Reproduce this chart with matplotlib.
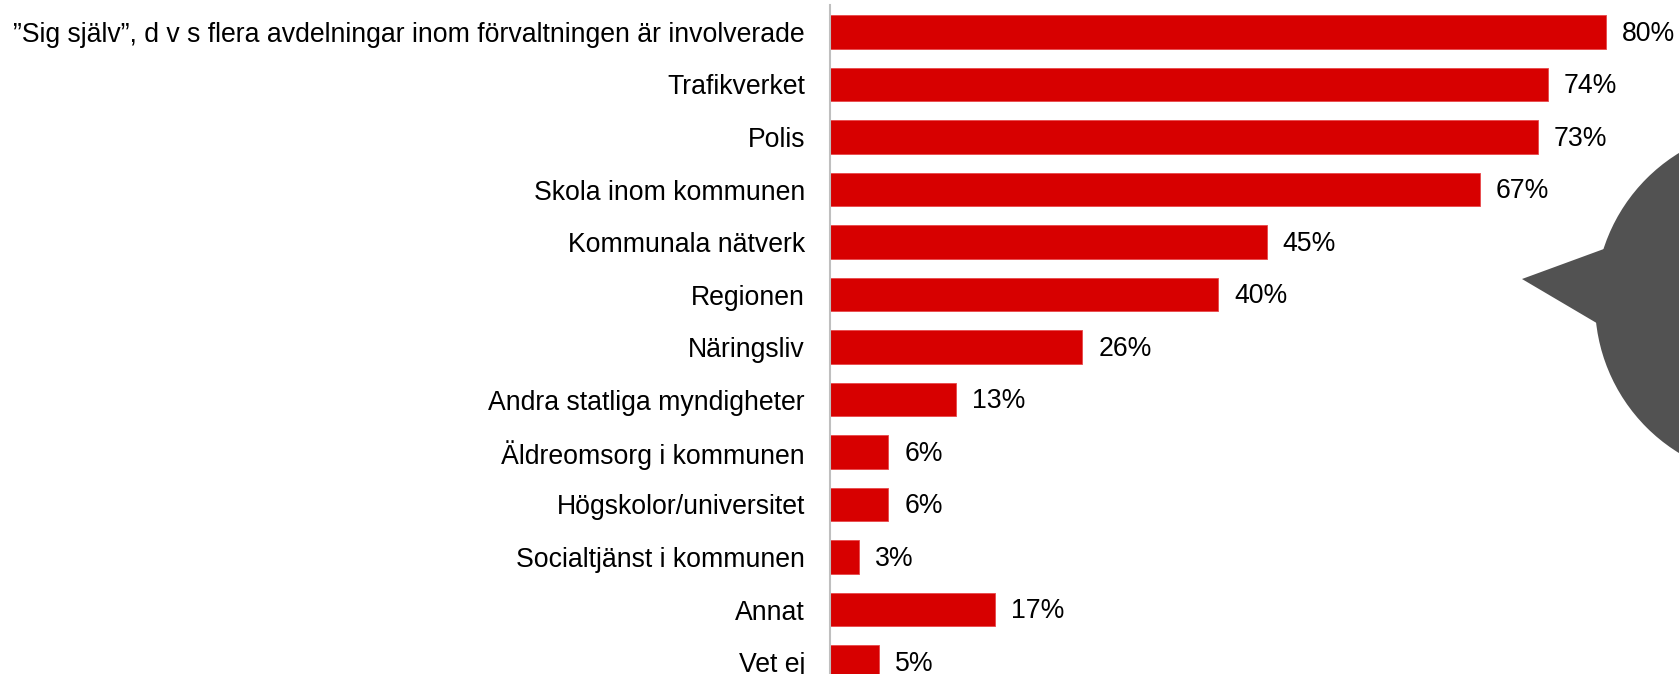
import matplotlib.pyplot as plt
from matplotlib.patches import Circle, Polygon

# survey answers, top to bottom
categories = [
    "\u201dSig själv\u201d, d v s flera avdelningar inom förvaltningen är involverade",
    "Trafikverket",
    "Polis",
    "Skola inom kommunen",
    "Kommunala nätverk",
    "Regionen",
    "Näringsliv",
    "Andra statliga myndigheter",
    "Äldreomsorg i kommunen",
    "Högskolor/universitet",
    "Socialtjänst i kommunen",
    "Annat",
    "Vet ej",
]
shares = [80, 74, 73, 67, 45, 40, 26, 13, 6, 6, 3, 17, 5]

BAR_RED = "#D70000"
BUBBLE_GREY = "#525252"

plt.rcParams['font.family'] = ['Liberation Sans', 'DejaVu Sans']

W, H = 1679, 674
fig = plt.figure(figsize=(W / 100, H / 100), dpi=100)

# main bar chart
ax = fig.add_axes([830 / W, 0, 1 - 830 / W, 1])
pos = list(range(len(categories)))
ax.barh(pos, shares, height=0.64, color=BAR_RED, edgecolor="#E8474A", linewidth=0.6)
for y, v in zip(pos, shares):
    ax.text(v + 1.65, y + 0.03, f"{v}%", va="center", ha="left", fontsize=19.2)

ax.set_xlim(0, 849 / 9.7)
ax.set_ylim((674 - 32) / 52.5, -32 / 52.5)
ax.set_yticks(pos)
ax.set_yticklabels(categories, fontsize=19.2)
ax.tick_params(axis="y", length=0, pad=18)
ax.set_xticks([])
for s in ["top", "right", "bottom"]:
    ax.spines[s].set_visible(False)
ax.spines["left"].set_color("#BFBFBF")
ax.spines["left"].set_linewidth(1.5)
ax.spines["left"].set_bounds((674 - 32) / 52.5, (5 - 32) / 52.5)

# speech bubble on the right, partly off the canvas
deco = fig.add_axes([0, 0, 1, 1], zorder=5)
deco.set_xlim(0, W)
deco.set_ylim(H, 0)
deco.axis("off")
deco.patch.set_alpha(0)
deco.add_patch(Circle((1771, 303), 176, color=BUBBLE_GREY, lw=0))
deco.add_patch(Polygon([(1522, 279), (1612, 246), (1600, 325)], closed=True,
                       color=BUBBLE_GREY, lw=0))

fig.savefig("out.png", dpi=100)
